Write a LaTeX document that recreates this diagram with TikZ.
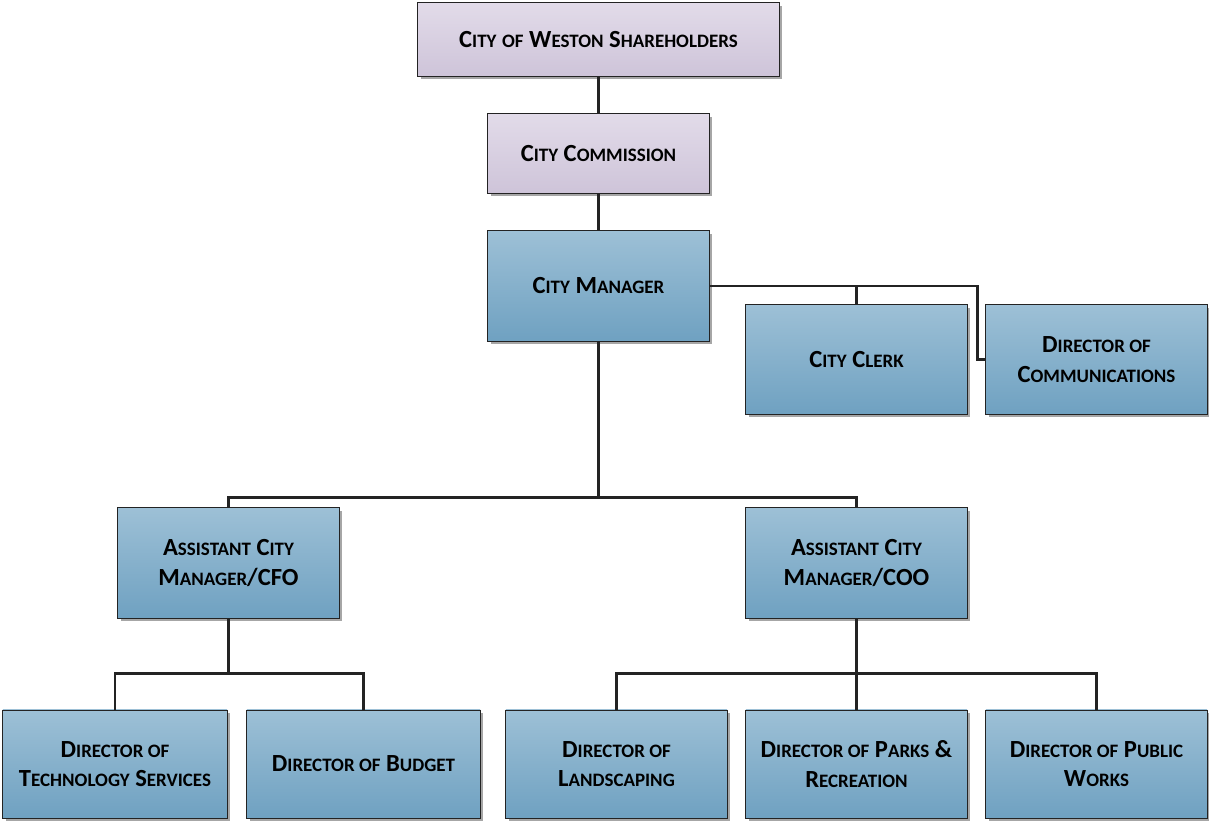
\documentclass[tikz,border=0pt]{standalone}
\usepackage{fontspec}
\setmainfont{Carlito}
\usepackage[svgnames]{xcolor}
\usetikzlibrary{shadows}

\definecolor{LilacTop}{RGB}{226,219,233}
\definecolor{LilacBot}{RGB}{206,196,217}
\definecolor{SteelTop}{RGB}{157,192,214}
\definecolor{SteelBot}{RGB}{111,161,193}
\definecolor{LineGray}{RGB}{35,35,35}

% small capitals by hand (Carlito has none)
\newcommand\sml[1]{{\fontsize{13.5}{21}\selectfont #1}}

\tikzset{
    orgbox/.style={draw=LineGray, line width=0.7pt, align=center, inner sep=2pt,
        font=\fontsize{17.5}{21}\selectfont\bfseries,
        drop shadow={shadow xshift=2pt, shadow yshift=-2pt, fill=black, opacity=.35}},
    lilacbox/.style={orgbox, top color=LilacTop, bottom color=LilacBot},
    steelbox/.style={orgbox, top color=SteelTop, bottom color=SteelBot},
    link/.style={draw=LineGray, line width=1.7pt},
}

\begin{document}
\begin{tikzpicture}[x=0.025cm, y=-0.025cm]
            \useasboundingbox (0,0) rectangle (1209,821);

            % Board and commission
            \node (holders) at (598.5,39.5) [lilacbox, minimum width=9.025cm, minimum height=1.825cm] {C\sml{ITY} \sml{OF} W\sml{ESTON} S\sml{HAREHOLDERS}};
            \node (commission) at (598.5,153.5) [lilacbox, minimum width=5.525cm, minimum height=1.975cm] {C\sml{ITY} C\sml{OMMISSION}};

            % Manager and direct staff
            \node (manager) at (598.5,286) [steelbox, minimum width=5.525cm, minimum height=2.75cm] {C\sml{ITY} M\sml{ANAGER}};
            \node (clerk) at (856.5,359.5) [steelbox, minimum width=5.525cm, minimum height=2.725cm] {C\sml{ITY} C\sml{LERK}};
            \node (comms) at (1096.5,359.5) [steelbox, minimum width=5.525cm, minimum height=2.725cm] {D\sml{IRECTOR OF}\\C\sml{OMMUNICATIONS}};

            % Assistants
            \node (cfo) at (228.5,563) [steelbox, minimum width=5.525cm, minimum height=2.75cm] {A\sml{SSISTANT} C\sml{ITY}\\M\sml{ANAGER}/CFO};
            \node (coo) at (856.5,563) [steelbox, minimum width=5.525cm, minimum height=2.75cm] {A\sml{SSISTANT} C\sml{ITY}\\M\sml{ANAGER}/COO};

            % Directors
            \node (tech) at (115,764) [steelbox, minimum width=5.6cm, minimum height=2.7cm] {D\sml{IRECTOR OF}\\T\sml{ECHNOLOGY} S\sml{ERVICES}};
            \node (budget) at (363.5,764) [steelbox, minimum width=5.825cm, minimum height=2.7cm] {D\sml{IRECTOR OF} B\sml{UDGET}};
            \node (landscape) at (616.5,764) [steelbox, minimum width=5.525cm, minimum height=2.7cm] {D\sml{IRECTOR OF}\\L\sml{ANDSCAPING}};
            \node (parks) at (856.5,764) [steelbox, minimum width=5.525cm, minimum height=2.7cm] {D\sml{IRECTOR OF} P\sml{ARKS} \&\\R\sml{ECREATION}};
            \node (works) at (1096.5,764) [steelbox, minimum width=5.525cm, minimum height=2.7cm] {D\sml{IRECTOR OF} P\sml{UBLIC}\\W\sml{ORKS}};

            % Connectors
            \draw [link] (holders) -- (commission);
            \draw [link] (commission) -- (manager);
            \draw [link] (manager.east) -| (clerk.north);
            \draw [link] (manager.east) -- ++(268,0) |- (comms.west);
            \draw [link] (manager.south) -- ++(0,156) -| (cfo.north);
            \draw [link] (manager.south) ++(0,156) -| (coo.north);
            \draw [link] (cfo.south) -- ++(0,55) -| (tech.north);
            \draw [link] (cfo.south) ++(0,55) -| (budget.north);
            \draw [link] (coo.south) -- ++(0,55) -| (landscape.north);
            \draw [link] (coo.south) -- (parks.north);
            \draw [link] (coo.south) ++(0,55) -| (works.north);
\end{tikzpicture}
\end{document}
